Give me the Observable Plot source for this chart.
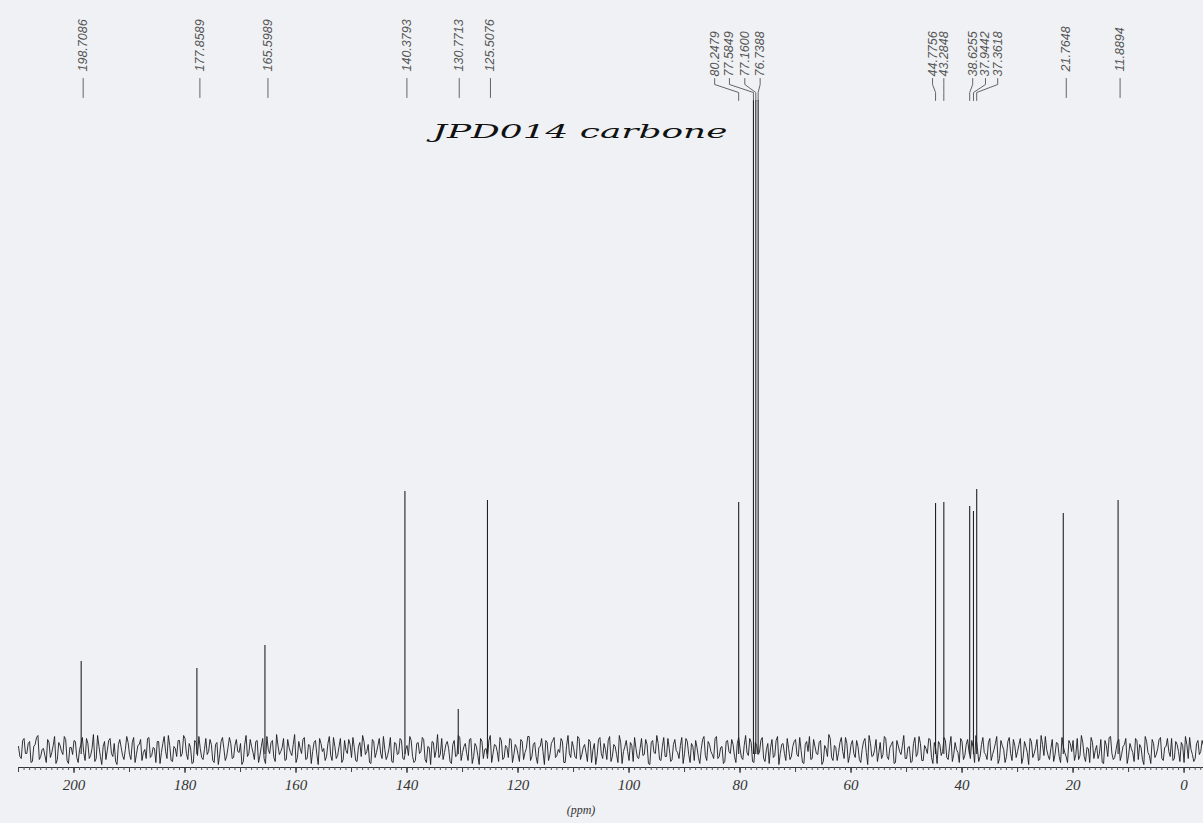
<!DOCTYPE html>
<html><head><meta charset="utf-8">
<script src="https://cdn.jsdelivr.net/npm/d3@7"></script>
<script src="https://cdn.jsdelivr.net/npm/@observablehq/plot@0.6"></script>
<style>
html,body{margin:0;padding:0;background:#eff1f4;}
#chart svg{display:block;}
#chart g[aria-label="x-axis tick label"], #chart g[aria-label="x-axis tick label"] text{
  font-family:"Liberation Serif",serif !important;font-style:italic !important;font-size:15px !important;}
</style></head><body><div id="chart"></div>
<script>
// ---------------- data ----------------
const title = "JPD014 carbone";
const axisLabel = "(ppm)";
const tickLabels = [200, 180, 160, 140, 120, 100, 80, 60, 40, 20, 0];
const peakPpm = [198.7086, 177.8589, 165.5989, 140.3793, 130.7713, 125.5076,
  80.2479, 77.5849, 77.1600, 76.7388, 44.7756, 43.2848, 38.6255, 37.9442, 37.3618, 21.7648, 11.8894];
const peakHeight = [89, 82, 105, 259, 41, 250, 248, 650, 650, 650, 247, 248, 244, 239, 261, 237, 250];
// baseline noise: noiseA at 210, 209.5, 209 ... ppm; noiseB a quarter ppm lower
const noiseA = [
4,-8,12,-3,9,-11,6,15,-6,2,-12,8,-2,14,-9,5,-4,11,-13,3,
10,-7,1,13,-10,7,-5,16,-8,4,-14,9,0,12,-6,-11,6,3,-9,14,
-4,8,-12,5,11,-2,-8,13,-5,2,9,-13,7,-1,15,-10,4,-6,10,-3,
12,-9,3,-12,8,14,-7,1,-4,11,-10,6,-14,9,2,-6,13,-8,5,-1,
7,-11,15,-3,4,-9,10,-5,12,-13,1,8,-7,16,-4,3,-10,11,-2,6,
-12,9,-3,13,-8,5,-1,10,-14,7,2,-6,14,-10,4,-5,12,-9,0,11,
-7,3,-11,8,15,-4,6,-13,9,-2,12,-8,1,-5,13,-12,7,-3,10,-9,
5,14,-6,-10,8,-1,11,-12,3,9,-7,16,-4,-9,6,2,-13,10,-5,13,
-2,7,-10,12,-6,4,-14,9,1,-8,15,-3,5,-11,10,-7,3,12,-12,6,
-4,11,-9,2,14,-6,8,-13,4,-1,10,-10,7,13,-5,-2,9,-12,15,-7,
3,-8,12,-4,6,-11,9,1,-14,11,-3,7,-9,14,-6,4,-12,8,-1,10,
-10,5,13,-7,2,-5,11,-13,8,-2,15,-9,4,-6,12,-11,6,0,-8,13,
-3,9,-12,4,10,-7,1,14,-10,6,-4,12,-8,3,-13,9,-1,11,-6,7,
2,-9,15,-5,8,-12,5,-2,13,-11,7,3,-7,10,-14,6,-3,12,-9,4,
11,-6,0,-13,9,14,-8,4,-4,10,-11,2,16,-7,5,-10,8,-1,13,-12,
6,-3,10,-9,1,12,-14,7,-5,11,-2,-8,14,-6,3,9,-12,5,-4,15,
-8,4,-11,13,-3,7,-10,2,12,-7,8,-13,6,-1,10,-9,14,-4,1,-12,
9,-5,11,-8,3,15,-11,6,-2,-9,12,-4,7,-13,10,1,-6,13,-10,5,
-1,12,-7,4,-14,9,-3,11,-9,6,14,-5,2,-11,8,-6,13,-2,-12,7,
10,-4,-9,15,-6,3,-12,8,0,-8,11,-13,5,13,-3,-7,9,-10,4,12,
-5,2,-11,10,6,-9,14,-2,-13,7,-4,11,-8,3,12,-6,-10,9,-1,8,
-12,6,13,-4,-8,10,-1,5,-14,9,3,-7,11,-10,15,-3,7,-9,2,-5];
const noiseB = [
-6,10,-3,7,-12,4,13,-9,1,-5,11,-7,5,-13,8,-1,14,-10,3,-4,
9,-12,6,-2,12,-8,2,-11,15,-6,4,-9,10,-3,7,-14,11,-5,1,8,
-9,13,-4,6,-10,1,12,-7,3,-12,9,-2,14,-8,5,-11,2,10,-6,15,
-3,7,-13,10,-5,2,-9,12,-1,6,-12,8,-4,13,-10,3,7,-7,11,-2,
-14,6,-6,11,-2,9,-12,4,-8,14,-3,10,-11,5,-1,12,-9,3,-5,16,
-7,2,11,-9,6,-13,8,-4,12,-1,-10,7,-5,13,-8,4,-12,10,-3,6,
13,-10,4,-6,9,-1,-12,11,-7,5,-3,14,-9,2,-11,8,-4,12,-8,1,
-5,10,-12,7,-3,13,-9,4,-14,8,0,-7,12,-2,9,-11,6,-6,15,-10,
4,-3,11,-13,7,-5,12,-8,2,10,-12,6,-1,13,-9,5,-7,11,-4,3,
-11,9,-2,14,-10,6,-6,3,12,-14,8,-4,10,-7,1,12,-12,5,-3,9,
-6,14,-9,3,-2,11,-12,7,-5,13,-8,1,10,-11,6,-4,15,-13,4,-1,
8,-11,2,-8,12,-4,6,-14,10,-3,7,-10,13,-6,2,-9,11,-2,5,-13,
12,-4,7,-10,3,-13,11,-5,9,-1,-8,14,-6,4,-11,10,-3,6,-12,13,
-7,5,-2,12,-11,8,-4,10,-8,1,-13,11,-5,14,-3,7,-10,2,-6,9,
-4,13,-12,6,-1,-9,11,-3,8,-14,5,-6,12,-10,3,-2,13,-8,7,-5,
10,-7,4,-12,9,-2,15,-6,1,-11,8,-4,12,-9,6,-13,10,-1,5,-8,
3,-12,7,-6,14,-10,5,-3,11,-13,2,9,-5,13,-7,4,-11,8,-2,12,
-9,6,-1,10,-12,3,-6,13,-4,8,-10,1,14,-8,5,-12,9,-3,11,-7,
6,-13,9,-2,12,-7,3,-10,15,-5,1,-9,11,-4,7,-12,4,-6,10,-1,
-10,12,-5,8,-11,2,13,-8,5,-3,-12,10,-6,14,-9,1,11,-4,6,-13,
7,-2,12,-9,3,-14,9,-5,11,-7,2,13,-10,4,-1,12,-8,6,-11,5,
14,-8,1,-11,7,-4,10,-12,5,-2,13,-9,3,-6,11,-13,8,-1,9,-3];
const noiseStart = 210, noiseStep = 0.5;

// ---------------- layout ----------------
const W = 1203, H = 823;
const X_DOMAIN = [210, -3.5], X_RANGE = [18, 1203];
const Y_DOMAIN = [-17, 750], Y_RANGE = [767, 0];
const labelShiftPx = [2, 3, 3, 2, 1, 3, -24, -24, -11, 2, -3, 0, 3, 12, 21, 3, 2];
const groupedIdx = new Set([6, 7, 8, 9, 10, 11, 12, 13, 14]);

const xs = Plot.scale({x: {domain: X_DOMAIN, range: X_RANGE}});
const ys = Plot.scale({y: {domain: Y_DOMAIN, range: Y_RANGE}});

const noise = [];
noiseA.forEach((v, i) => {
  noise.push({ppm: noiseStart - i * noiseStep, v});
  if (i < noiseB.length) noise.push({ppm: noiseStart - i * noiseStep - noiseStep / 2, v: noiseB[i]});
});
const noiseShown = noise.filter(d => d.ppm >= X_DOMAIN[1]);

const peaks = peakPpm.map((ppm, i) => ({
  i, ppm, h: peakHeight[i], label: ppm.toFixed(4),
  grouped: groupedIdx.has(i),
  lx: xs.invert(xs.apply(ppm) + labelShiftPx[i])
}));

const connectors = [];
peaks.forEach(p => {
  const pts = p.grouped
    ? [[p.lx, 78], [p.lx, 84], [p.ppm, 92], [p.ppm, 100]]
    : [[p.lx, 78], [p.lx, 97]];
  pts.forEach(([x, py]) => connectors.push({i: p.i, x, y: ys.invert(py)}));
});

const chart = Plot.plot({
  width: W, height: H,
  marginLeft: 18, marginRight: 0, marginTop: 0, marginBottom: H - 767,
  style: {background: "#eff1f4", color: "#333"},
  x: {domain: X_DOMAIN, range: X_RANGE, axis: null},
  y: {domain: Y_DOMAIN, range: Y_RANGE, axis: null},
  marks: [
    Plot.line(noiseShown, {x: "ppm", y: "v", stroke: "#1c1c1c", strokeWidth: 0.9}),
    Plot.ruleX(peaks, {x: "ppm", y1: -4, y2: "h", stroke: "#222", strokeWidth: 1.1}),
    Plot.line(connectors, {x: "x", y: "y", z: "i", stroke: "#555", strokeWidth: 0.9}),
    Plot.text(peaks, {
      x: "lx", y: d => ys.invert(d.grouped ? 76 : 71), text: "label",
      rotate: -90, textAnchor: "start", lineAnchor: "middle",
      fontSize: 12.5, fontStyle: "italic", fontFamily: "Liberation Sans, sans-serif", fill: "#555"
    }),
    Plot.text([title], {
      frameAnchor: "top-left", dx: 414, dy: 131, text: d => d,
      textAnchor: "start", lineAnchor: "middle",
      fontSize: 19, fontStyle: "italic", fontFamily: "DejaVu Serif, serif", fill: "#111",
      className: "title-text"
    }),
    Plot.frame({anchor: "bottom", stroke: "#333"}),
    Plot.axisX(d3.range(-3, 211, 1), {tickSize: 3, text: null, stroke: "#555"}),
    Plot.axisX(d3.range(0, 211, 10), {tickSize: 5, text: null, stroke: "#444"}),
    Plot.axisX(tickLabels, {tickSize: 6, tickPadding: 6, stroke: "#333", label: null, fontSize: 15, fill: "#333"}),
    Plot.text([axisLabel], {
      frameAnchor: "bottom", dx: -30, dy: 46, text: d => d,
      fontSize: 12, fontStyle: "italic", fontFamily: "Liberation Serif, serif", fill: "#333"
    })
  ]
});
document.getElementById("chart").appendChild(chart);
d3.select(chart).selectAll(".title-text text")
  .attr("textLength", 295).attr("lengthAdjust", "spacingAndGlyphs");
const tickSet = new Set(tickLabels.map(String));
d3.select(chart).selectAll("text")
  .filter(function() { return tickSet.has(this.textContent.trim().replace("\u2212", "-")); })
  .attr("font-family", "Liberation Serif, serif").attr("font-style", "italic")
  .style("font-family", "Liberation Serif, serif").style("font-style", "italic").style("font-size", "15px");
</script>
</body></html>
